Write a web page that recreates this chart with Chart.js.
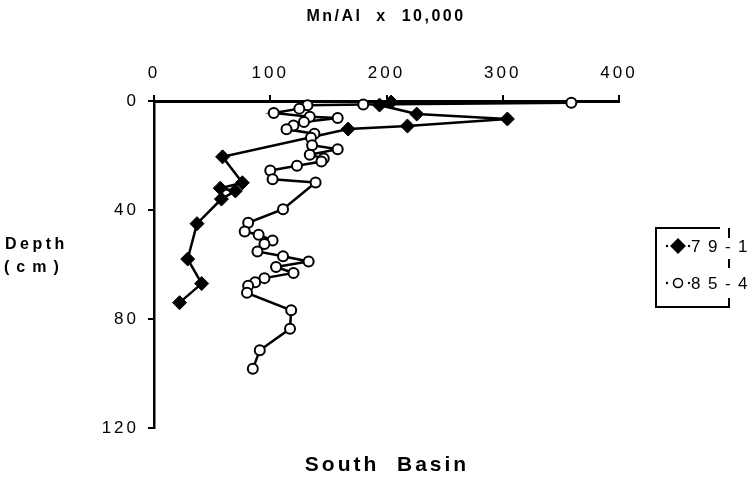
<!DOCTYPE html>
<html>
<head>
<meta charset="utf-8">
<script src="https://cdn.jsdelivr.net/npm/chart.js@4.4.0/dist/chart.umd.min.js"></script>
<style>
  html, body { margin: 0; padding: 0; background: #fff; }
  #wrap { width: 750px; height: 485px; position: relative; }
</style>
</head>
<body>
<div id="wrap"><canvas id="c" width="750" height="485"></canvas></div>
<script>
// Core 79-1: depth (cm) and Mn/Al x 10,000
const depth791 = [0.4, 1.5, 4.8, 6.6, 9.2, 10.3, 20.5, 30, 32, 33, 36, 45, 58, 67, 74];
const mnal791  = [204, 194, 226, 304, 218, 167, 59, 76, 57, 70, 58, 37, 29, 41, 22];

// Core 85-4: depth (cm) and Mn/Al x 10,000
const depth854 = [0.6, 1.3, 1.6, 2.8, 4.4, 5.8, 6.2, 7.7, 9.0, 10.4, 12.0, 13.5, 16.2, 17.7, 19.7, 21.1, 22.2, 23.8, 25.5, 28.7, 29.9, 39.7, 44.7, 47.9, 49.1, 51.2, 52.5, 55.2, 57.0, 58.9, 60.9, 63.1, 65.0, 66.5, 67.8, 70.4, 76.8, 83.6, 91.5, 98.3];
const mnal854  = [359, 180, 132, 125, 103, 134, 158, 129, 120, 114, 138, 135, 136, 158, 134, 146, 144, 123, 100, 102, 139, 111, 81, 78, 90, 102, 95, 89, 111, 133, 105, 120, 95, 87, 81, 80, 118, 117, 91, 85];

const xTickValues = [0, 100, 200, 300, 400];
const yTickValues = [0, 40, 80, 120];
const seriesNames = ['79-1', '85-4'];

const FONT = "'Liberation Sans', Arial, Helvetica, sans-serif";

function toPoints(xs, ys) {
  return xs.map((v, i) => ({ x: v, y: ys[i] }));
}

// Titles, axis caption and the boxed key
const decorations = {
  id: 'decorations',
  beforeDraw(chart) {
    chart.ctx.letterSpacing = '3px';
  },
  afterDraw(chart) {
    const ctx = chart.ctx;
    ctx.save();
    ctx.fillStyle = '#000';
    ctx.strokeStyle = '#000';

    ctx.font = 'bold 16px ' + FONT;
    ctx.letterSpacing = '2.5px';
    ctx.textAlign = 'center';
    ctx.textBaseline = 'middle';
    ctx.fillText('Mn/Al  x  10,000', 386, 17);

    ctx.textAlign = 'left';
    ctx.letterSpacing = '3.5px';
    ctx.fillText('Depth', 5, 245);
    ctx.letterSpacing = '7px';
    ctx.fillText('(cm)', 4, 268);

    ctx.font = 'bold 21px ' + FONT;
    ctx.letterSpacing = '3px';
    ctx.textAlign = 'center';
    ctx.fillText('South  Basin', 387, 465);

    // key box: solid left, top and bottom, broken right side
    ctx.lineWidth = 2;
    ctx.beginPath();
    ctx.moveTo(720, 228);
    ctx.lineTo(656, 228);
    ctx.lineTo(656, 307);
    ctx.lineTo(729, 307);
    ctx.lineTo(729, 298);
    ctx.stroke();
    ctx.beginPath();
    ctx.moveTo(729, 228); ctx.lineTo(729, 238);
    ctx.moveTo(729, 259); ctx.lineTo(729, 268);
    ctx.stroke();

    const rows = [
      { y: 246, name: seriesNames[0], ds: 0 },
      { y: 283, name: seriesNames[1], ds: 1 }
    ];
    rows.forEach(r => {
      const ds = chart.data.datasets[r.ds];
      ctx.fillStyle = '#000';
      ctx.beginPath(); ctx.arc(667, r.y, 1.2, 0, Math.PI * 2); ctx.fill();
      ctx.beginPath(); ctx.arc(689, r.y, 1.2, 0, Math.PI * 2); ctx.fill();
      Chart.helpers.drawPoint(ctx, {
        pointStyle: ds.pointStyle,
        radius: ds.pointStyle === 'circle' ? 4.5 : 6.5,
        borderWidth: ds.pointStyle === 'circle' ? 1.5 : 1
      }, 678, r.y);
      ctx.fillStyle = ds.pointBackgroundColor;
      ctx.strokeStyle = '#000';
      ctx.lineWidth = ds.pointStyle === 'circle' ? 1.5 : 1;
      ctx.fill();
      ctx.stroke();
      ctx.fillStyle = '#000';
      ctx.font = '17px ' + FONT;
      ctx.letterSpacing = '7.5px';
      ctx.textAlign = 'left';
      ctx.fillText(r.name, 691, r.y + 1);
    });
    ctx.restore();
  }
};

new Chart(document.getElementById('c'), {
  type: 'scatter',
  data: {
    datasets: [
      {
        label: seriesNames[0],
        data: toPoints(mnal791, depth791),
        showLine: true,
        borderColor: '#000',
        borderWidth: 2.5,
        pointStyle: 'rectRot',
        pointRadius: 7,
        pointBackgroundColor: '#000',
        pointBorderColor: '#000',
        pointBorderWidth: 1,
        clip: false,
        order: 1
      },
      {
        label: seriesNames[1],
        data: toPoints(mnal854, depth854),
        showLine: true,
        borderColor: '#000',
        borderWidth: 2.5,
        pointStyle: 'circle',
        pointRadius: 5,
        pointBackgroundColor: '#fff',
        pointBorderColor: '#000',
        pointBorderWidth: 2,
        clip: false,
        order: 0
      }
    ]
  },
  options: {
    responsive: false,
    animation: false,
    devicePixelRatio: 1,
    layout: { padding: { left: 0, top: 0, right: 131, bottom: 57 } },
    plugins: {
      legend: { display: false },
      tooltip: { enabled: false },
      title: { display: false }
    },
    scales: {
      x: {
        type: 'linear',
        position: 'top',
        min: 0,
        max: 400,
        afterBuildTicks: s => { s.ticks = xTickValues.map(v => ({ value: v })); },
        afterFit: s => { s.height = 101; },
        grid: { drawOnChartArea: false, drawTicks: true, tickLength: 6, color: '#000', lineWidth: 2 },
        border: { display: true, color: '#000', width: 3 },
        ticks: { padding: 11, color: '#000', font: { family: FONT, size: 17 }, maxRotation: 0 }
      },
      y: {
        type: 'linear',
        reverse: true,
        min: 0,
        max: 120,
        afterBuildTicks: s => { s.ticks = yTickValues.map(v => ({ value: v })); },
        afterFit: s => { s.width = 154; },
        grid: { drawOnChartArea: false, drawTicks: true, tickLength: 6, color: '#000', lineWidth: 2 },
        border: { display: true, color: '#000', width: 2.5 },
        ticks: { padding: 9, color: '#000', font: { family: FONT, size: 17 } }
      }
    }
  },
  plugins: [decorations]
});
</script>
</body>
</html>
